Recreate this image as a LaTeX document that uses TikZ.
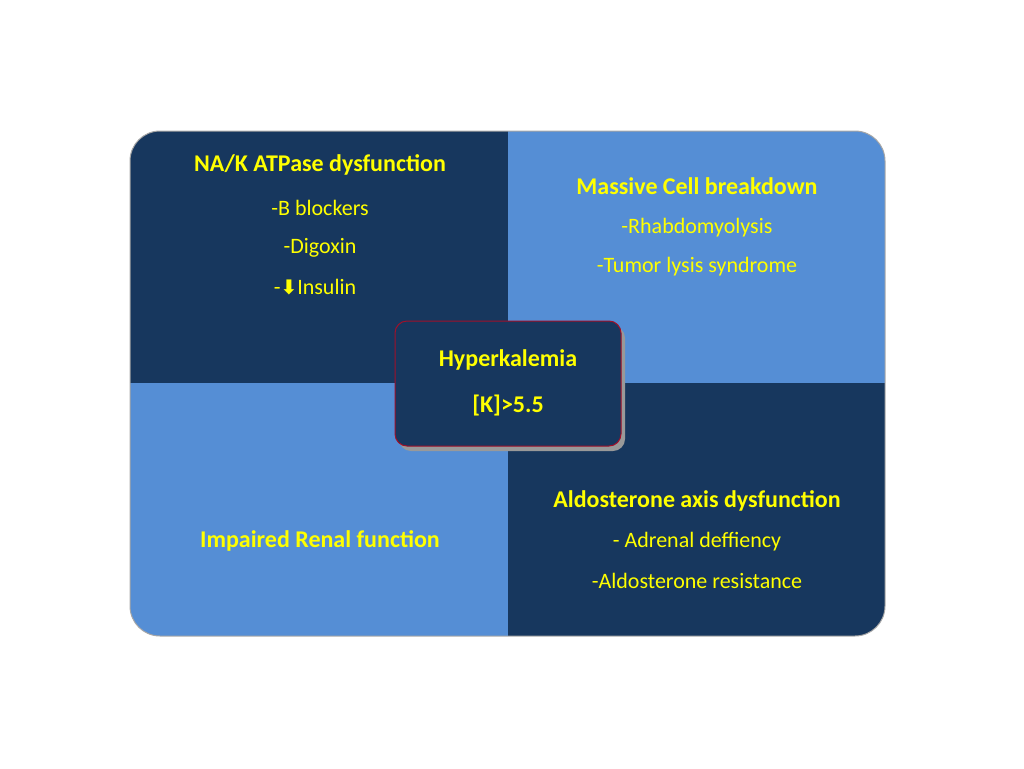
\documentclass[tikz,border=0pt]{standalone}
\usepackage{fontspec}
\setmainfont{Carlito}
\newfontfamily\symfont{DejaVu Sans}
\usetikzlibrary{shadows}
\definecolor{dk}{HTML}{17375E}
\definecolor{lt}{HTML}{558ED5}
\definecolor{yl}{HTML}{FFFF00}
\definecolor{rd}{HTML}{A0102A}
\begin{document}
\begin{tikzpicture}[x=1pt,y=-1pt,
  ttl/.style={text=yl,font=\fontsize{24}{28}\selectfont\bfseries,anchor=center},
  itm/.style={text=yl,font=\fontsize{22}{26}\selectfont,anchor=center}]
\useasboundingbox (0,0) rectangle (1024,768);
\begin{scope}
\clip[rounded corners=30pt] (130,131) rectangle (885,636);
\fill[dk] (130,131) rectangle (508,383);
\fill[lt] (508,131) rectangle (885,383);
\fill[lt] (130,383) rectangle (508,636);
\fill[dk] (508,383) rectangle (885,636);
\end{scope}
\draw[gray!70,line width=1pt,rounded corners=30pt] (130,131) rectangle (885,636);
\node[ttl] (t1) at (320,165) {NA/K ATPase dysfunction};
\node[itm] (a1) at (320,208) {-B blockers};
\node[itm] (a2) at (320,248) {-Digoxin};
\node[itm] (a3) at (315,287) {-{\symfont\bfseries\fontsize{20}{24}\selectfont ⬇}Insulin};
\node[ttl] (t2) at (697,186) {Massive Cell breakdown};
\node[itm] (b1) at (697,228) {-Rhabdomyolysis};
\node[itm] (b2) at (697,267) {-Tumor lysis syndrome};
\node[ttl] (t3) at (320,541) {Impaired Renal function};
\node[ttl] (t4) at (697,501) {Aldosterone axis dysfunction};
\node[itm] (d1) at (697,542) {- Adrenal deffiency};
\node[itm] (d2) at (697,581) {-Aldosterone resistance};
\fill[black!40,rounded corners=12pt] (399,326) rectangle (625,451);
\draw[fill=dk,draw=rd,line width=1pt,rounded corners=12pt] (395,321) rectangle (621,446);
\node[ttl] (h1) at (508,360) {Hyperkalemia};
\node[ttl] (h2) at (508,406) {[K]>5.5};
\end{tikzpicture}
\end{document}
